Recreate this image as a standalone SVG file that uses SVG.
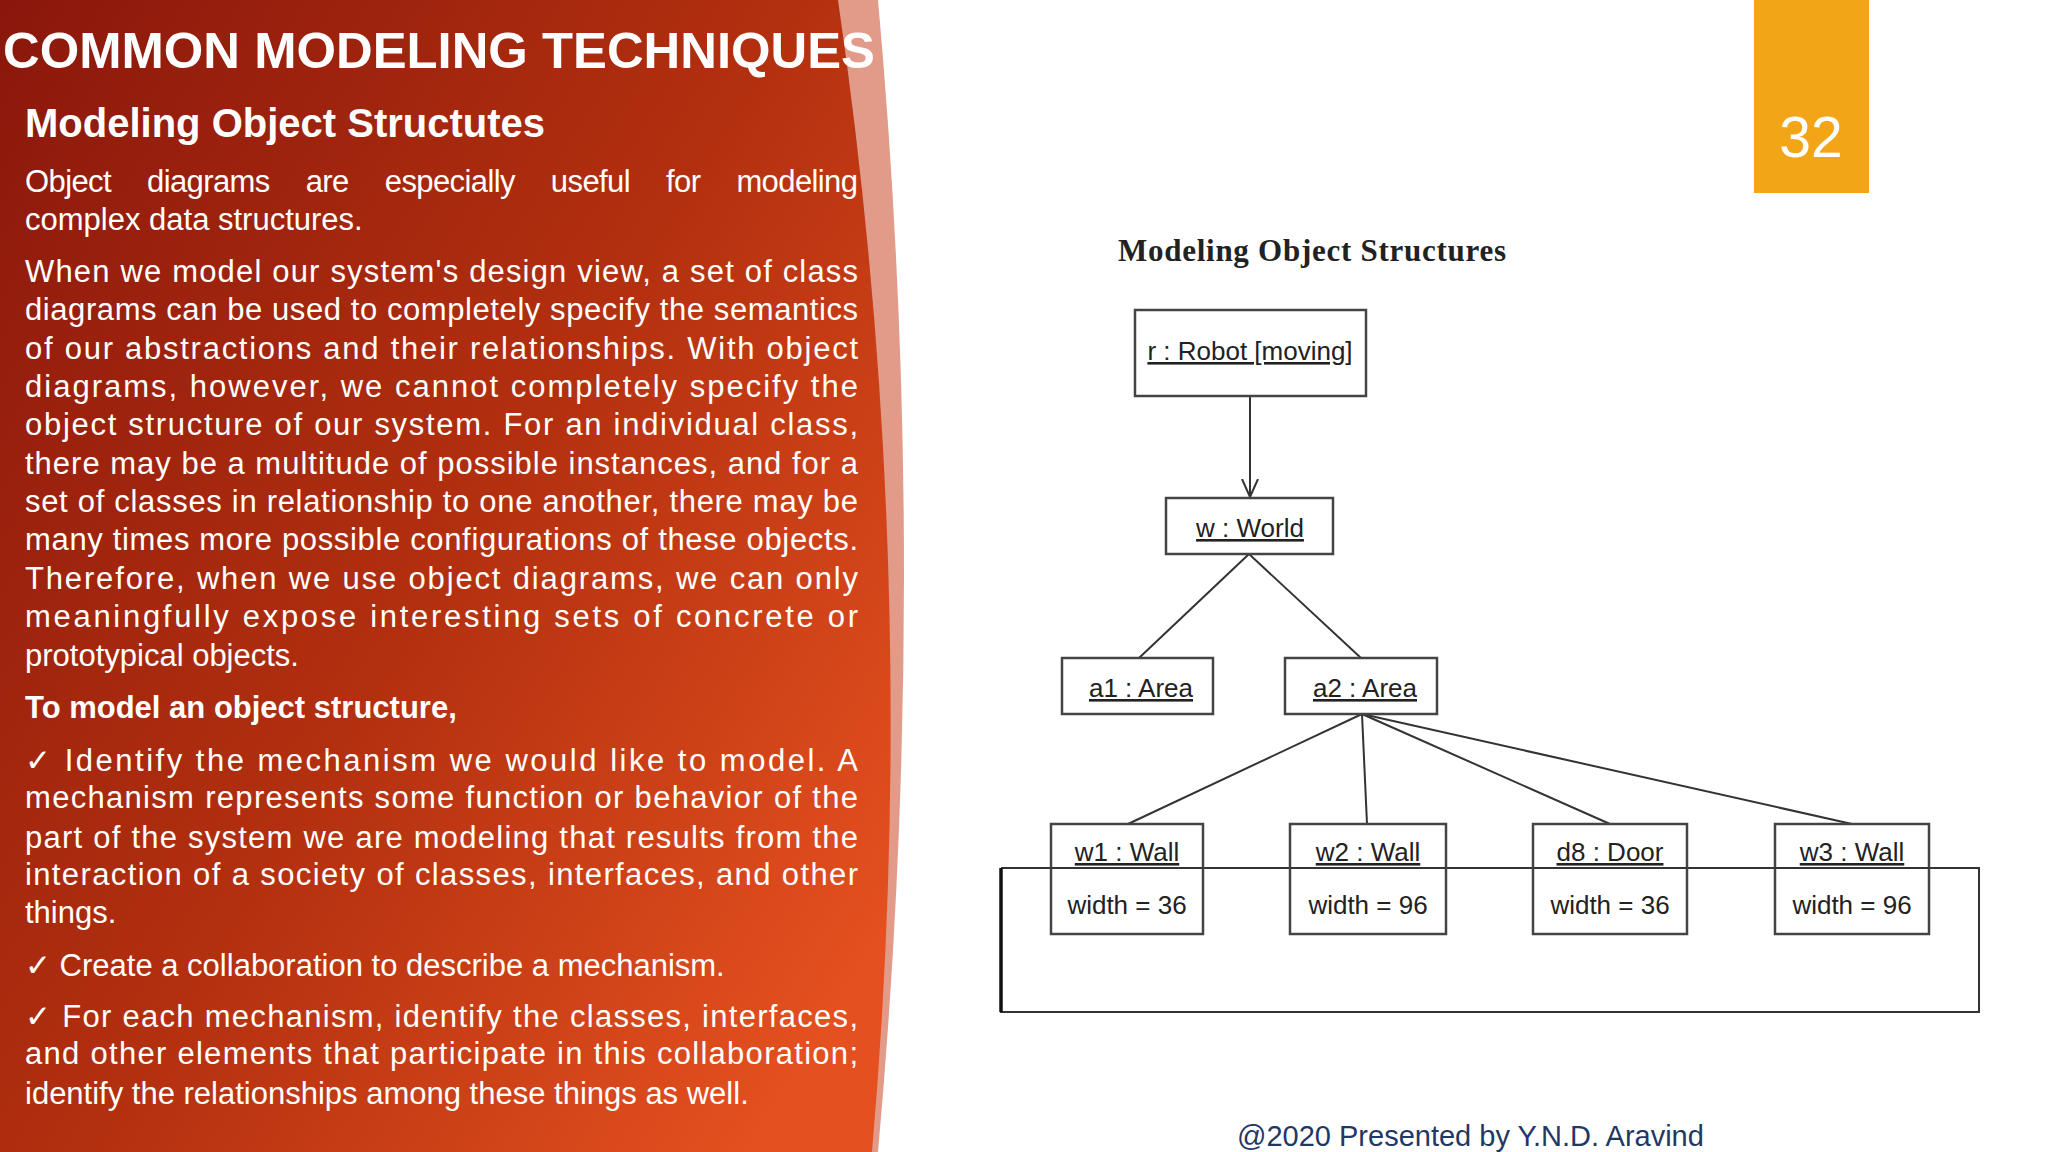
<svg xmlns="http://www.w3.org/2000/svg" width="2048" height="1152" viewBox="0 0 2048 1152">
<defs>
<linearGradient id="rg" x1="0" y1="0" x2="1" y2="0.8">
<stop offset="0" stop-color="#8a170c"/>
<stop offset="0.55" stop-color="#b3300f"/>
<stop offset="1" stop-color="#e4501f"/>
</linearGradient>
<marker id="oa" viewBox="0 0 20 20" refX="18" refY="10" markerWidth="20" markerHeight="20" markerUnits="userSpaceOnUse" orient="auto">
<path d="M0,2 L18,10 L0,18" fill="none" stroke="#333" stroke-width="2"/>
</marker>
<style>
.wt{fill:#fff;font-family:"Liberation Sans",Arial,sans-serif}
.b{font-size:31px}
.box{fill:#fff;stroke:#444;stroke-width:2.5}
.lbl{font-family:"Liberation Sans",Arial,sans-serif;font-size:26px;fill:#222;text-anchor:middle}
.u{text-decoration:underline}
.ln{stroke:#333;stroke-width:2;fill:none}
</style>
</defs>
<rect width="2048" height="1152" fill="#fff"/>
<path d="M0,0 L878,0 Q930,576 878,1152 L0,1152 Z" fill="#d9826a" opacity="0.8"/>
<path d="M0,0 L838,0 Q922,576 872,1152 L0,1152 Z" fill="url(#rg)"/>
<text class="wt" x="3" y="68" font-size="50" font-weight="bold" textLength="872" lengthAdjust="spacingAndGlyphs">COMMON MODELING TECHNIQUES</text>
<text class="wt" x="25" y="137" font-size="40" font-weight="bold">Modeling Object Structutes</text>
<g class="wt b">
<text x="25" y="192" textLength="833" lengthAdjust="spacing" word-spacing="28">Object diagrams are especially useful for modeling</text>
<text x="25" y="230">complex data structures.</text>
<text x="25" y="282" textLength="833" lengthAdjust="spacing">When we model our system's design view, a set of class</text>
<text x="25" y="320" textLength="833" lengthAdjust="spacing">diagrams can be used to completely specify the semantics</text>
<text x="25" y="359" textLength="833" lengthAdjust="spacing">of our abstractions and their relationships. With object</text>
<text x="25" y="397" textLength="833" lengthAdjust="spacing">diagrams, however, we cannot completely specify the</text>
<text x="25" y="435" textLength="833" lengthAdjust="spacing">object structure of our system. For an individual class,</text>
<text x="25" y="474" textLength="833" lengthAdjust="spacing">there may be a multitude of possible instances, and for a</text>
<text x="25" y="512" textLength="833" lengthAdjust="spacing">set of classes in relationship to one another, there may be</text>
<text x="25" y="550" textLength="833" lengthAdjust="spacing">many times more possible configurations of these objects.</text>
<text x="25" y="589" textLength="833" lengthAdjust="spacing">Therefore, when we use object diagrams, we can only</text>
<text x="25" y="627" textLength="833" lengthAdjust="spacing">meaningfully expose interesting sets of concrete or</text>
<text x="25" y="666">prototypical objects.</text>
<text x="25" y="718" font-weight="bold">To model an object structure,</text>
<text x="25" y="771" textLength="833" lengthAdjust="spacing">✓ Identify the mechanism we would like to model. A</text>
<text x="25" y="808" textLength="833" lengthAdjust="spacing">mechanism represents some function or behavior of the</text>
<text x="25" y="848" textLength="833" lengthAdjust="spacing">part of the system we are modeling that results from the</text>
<text x="25" y="885" textLength="833" lengthAdjust="spacing">interaction of a society of classes, interfaces, and other</text>
<text x="25" y="923">things.</text>
<text x="25" y="976">✓ Create a collaboration to describe a mechanism.</text>
<text x="25" y="1027" textLength="833" lengthAdjust="spacing">✓ For each mechanism, identify the classes, interfaces,</text>
<text x="25" y="1064" textLength="833" lengthAdjust="spacing">and other elements that participate in this collaboration;</text>
<text x="25" y="1104">identify the relationships among these things as well.</text>
</g>
<g id="pagenum">
<rect x="1754" y="0" width="115" height="193" fill="#f2a516"/>
<text x="1811" y="157" font-family="Liberation Sans, Arial, sans-serif" font-size="57" fill="#fff" text-anchor="middle">32</text>
</g>
<text x="1118" y="261" font-family="Liberation Serif, Times New Roman, serif" font-size="31" font-weight="bold" fill="#222" textLength="388">Modeling Object Structures</text>
<g id="connectors">
<line class="ln" x1="1250" y1="396" x2="1250" y2="497" marker-end="url(#oa)"/>
<line class="ln" x1="1249" y1="554" x2="1139" y2="658"/>
<line class="ln" x1="1249" y1="554" x2="1361" y2="658"/>
<line class="ln" x1="1362" y1="714" x2="1128" y2="824"/>
<line class="ln" x1="1362" y1="714" x2="1367" y2="824"/>
<line class="ln" x1="1362" y1="714" x2="1610" y2="824"/>
<line class="ln" x1="1362" y1="714" x2="1852" y2="824"/>
<line class="ln" x1="1051" y1="868" x2="1001" y2="868"/>
<line class="ln" x1="1203" y1="868" x2="1290" y2="868"/>
<line class="ln" x1="1446" y1="868" x2="1533" y2="868"/>
<line class="ln" x1="1687" y1="868" x2="1775" y2="868"/>
<polyline class="ln" points="1929,868 1979,868 1979,1012 1001,1012 1001,868"/>
<line x1="1001" y1="868" x2="1001" y2="1012" stroke="#111" stroke-width="3.5"/>
</g>
<g id="robot"><rect class="box" x="1135" y="310" width="231" height="86"/><text class="lbl u" x="1250" y="360">r : Robot [moving]</text></g>
<g id="world"><rect class="box" x="1166" y="498" width="167" height="56"/><text class="lbl u" x="1250" y="537">w : World</text></g>
<g id="a1"><rect class="box" x="1062" y="658" width="151" height="56"/><text class="lbl u" x="1141" y="697">a1 : Area</text></g>
<g id="a2"><rect class="box" x="1285" y="658" width="152" height="56"/><text class="lbl u" x="1365" y="697">a2 : Area</text></g>
<g id="w1"><rect class="box" x="1051" y="824" width="152" height="110"/><line class="ln" x1="1051" y1="868" x2="1203" y2="868"/><text class="lbl u" x="1127" y="861">w1 : Wall</text><text class="lbl" x="1127" y="914">width = 36</text></g>
<g id="w2"><rect class="box" x="1290" y="824" width="156" height="110"/><line class="ln" x1="1290" y1="868" x2="1446" y2="868"/><text class="lbl u" x="1368" y="861">w2 : Wall</text><text class="lbl" x="1368" y="914">width = 96</text></g>
<g id="d8"><rect class="box" x="1533" y="824" width="154" height="110"/><line class="ln" x1="1533" y1="868" x2="1687" y2="868"/><text class="lbl u" x="1610" y="861">d8 : Door</text><text class="lbl" x="1610" y="914">width = 36</text></g>
<g id="w3"><rect class="box" x="1775" y="824" width="154" height="110"/><line class="ln" x1="1775" y1="868" x2="1929" y2="868"/><text class="lbl u" x="1852" y="861">w3 : Wall</text><text class="lbl" x="1852" y="914">width = 96</text></g>
<text x="1237" y="1146" font-family="Liberation Sans, Arial, sans-serif" font-size="29" fill="#1f3864">@2020 Presented by Y.N.D. Aravind</text>
</svg>
